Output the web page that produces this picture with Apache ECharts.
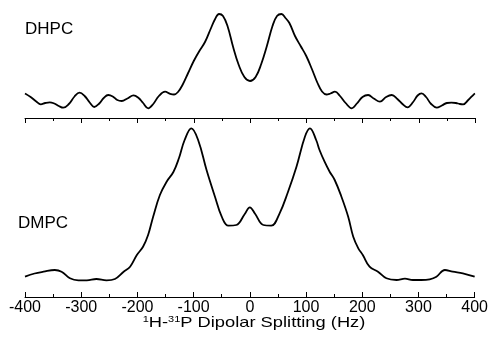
<!DOCTYPE html>
<html>
<head>
<meta charset="utf-8">
<script src="https://cdn.jsdelivr.net/npm/echarts@6/dist/echarts.min.js"></script>
<style>html,body{margin:0;padding:0;background:#fff}#c{width:491px;height:360px}</style>
</head>
<body>
<div id="c"></div>
<script>
// Frequency (Hz) positions and relative intensities
var dhpcHz = [-400,-390,-380,-372,-364,-356,-348,-340,-332,-322,-312,-303,-294,-285,-277,-268,-260,-252,-244,-236,-228,-218,-207,-198,-190,-181,-172,-162,-151,-142,-135,-128,-120,-110,-100,-90,-80,-70,-62,-55,-48,-40,-30,-20,-10,0,10,20,30,40,48,56,63,70,80,90,100,110,120,128,136,143,151,160,170,181,190,200,210,220,231,242,252,262,272,280,290,298,305,313,322,332,341,350,358,366,373,379,388,398,400];
var dhpcVal = [24.5,21,16.5,13.7,15,15.7,14.5,12,10.3,14,21.5,25.3,22,15.5,11,14.5,20,23,21.5,18,17,19.5,22.7,20,15,9.7,14,22,26.3,24.2,23.5,26,33,45,57,67,76,89,99,104,102,92,71,53,41,37,41,54,72,92,102,104,100,95,82,72,62,49,35,26.5,23.5,24.5,26.3,22,15,9.7,14.5,21,23,19.5,16.3,21,23,19,13.5,10.7,16,22.5,24.7,21,14,10.3,12.5,15,15.3,15,14,13.7,18,23.7,24.5];
var dmpcHz = [-400,-383,-367,-347,-335,-320,-305,-290,-273,-255,-240,-225,-213,-201,-190,-181,-172,-160,-148,-136,-126,-116,-104,-92,-77,-62,-50,-38,-24,-9,0,9,24,38,53,68,83,98,107,118,124,133,142,151,163,175,184,193,201,213,228,243,261,276,290,305,320,332,347,361,379,400];
var dmpcVal = [20.3,23.5,25.3,27,25.3,18.7,16.7,16.7,18,16.7,18,25,30.3,42,50.3,62,80.3,102,115.3,125,139,157,168.7,157,127,100.3,80.3,71.3,72,83,89.7,83.5,72,71.3,83.7,105.3,130.3,160.3,168.7,157,147,135.3,125.3,117,100.3,80.3,60.3,48.7,42,30.3,25.3,18.7,17,18.3,17,17,17.7,20.3,27,25.3,23.7,20.3];
var xTicks = [-400,-300,-200,-100,0,100,200,300,400];
var panelLabels = ['DHPC','DMPC'];
var axisTitle = '{s|1}H-{s|31}P Dipolar Splitting (Hz)';

function pairs(xs, ys){ return xs.map(function(x,i){ return [x, ys[i]]; }); }

var chart = echarts.init(document.getElementById('c'), null, {renderer:'canvas'});
var FONT = 'Liberation Sans, Arial, sans-serif';
var tickStyle = {color:'#000', width:1};
function xAxisFor(idx, inside, labels){
  return {
    type:'value', gridIndex:idx, min:xTicks[0], max:xTicks[xTicks.length-1], interval:100,
    axisLine:{show:true, lineStyle:{color:'#000', width:1}},
    splitLine:{show:false},
    axisTick:{show:true, length:5, inside:inside, lineStyle:tickStyle},
    minorTick:{show:true, splitNumber:2, length:3, lineStyle:tickStyle},
    axisLabel:{show:labels, color:'#000', fontFamily:FONT, fontSize:16, margin:3}
  };
}
chart.setOption({
  animation:false,
  grid:[
    {left:25, width:450, top:8, height:110},
    {left:25, width:450, top:120, height:177}
  ],
  xAxis:[ xAxisFor(0, false, false), xAxisFor(1, true, true) ],
  yAxis:[
    {type:'value', gridIndex:0, min:0, max:110, show:false},
    {type:'value', gridIndex:1, min:0, max:177, show:false}
  ],
  graphic:[
    {type:'text', left:25, top:21, style:{text:panelLabels[0], fill:'#000', font:'17px '+FONT}},
    {type:'text', left:18, top:215, style:{text:panelLabels[1], fill:'#000', font:'17px '+FONT}},
    {type:'text', x:254, y:315, scaleX:1.22, style:{text:axisTitle, fill:'#000', font:'15px '+FONT,
      align:'center', verticalAlign:'top',
      rich:{s:{fontSize:9, fontFamily:FONT, fill:'#000', verticalAlign:'top'}}}}
  ],
  series:[
    {type:'line', xAxisIndex:0, yAxisIndex:0, data:pairs(dhpcHz,dhpcVal), smooth:0.4, showSymbol:false, lineStyle:{color:'#000', width:1.8}},
    {type:'line', xAxisIndex:1, yAxisIndex:1, data:pairs(dmpcHz,dmpcVal), smooth:0.4, showSymbol:false, lineStyle:{color:'#000', width:1.8}}
  ]
});
</script>
</body>
</html>
